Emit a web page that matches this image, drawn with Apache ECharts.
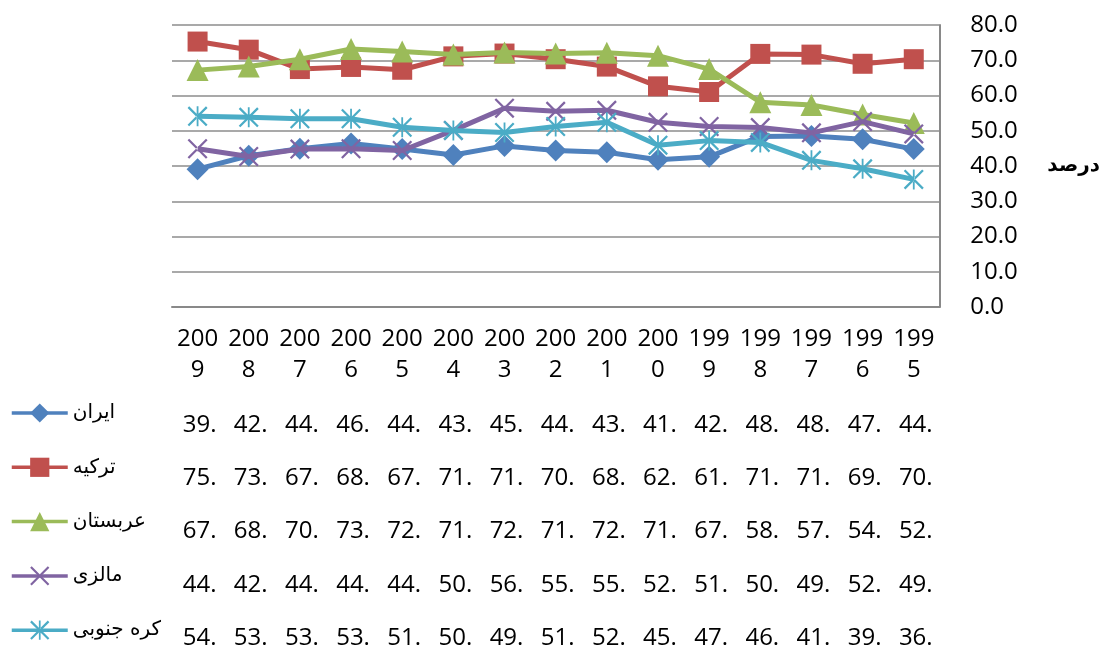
<!DOCTYPE html>
<html><head><meta charset="utf-8">
<script src="https://cdn.jsdelivr.net/npm/echarts@6/dist/echarts.min.js"></script>
<style>html,body{margin:0;padding:0;background:#fff}#c{width:1103px;height:651px}</style>
</head><body><div id="c"></div>
<script>
// ---- data ----
const years = ['2009','2008','2007','2006','2005','2004','2003','2002','2001','2000','1999','1998','1997','1996','1995'];
const seriesNames = ['ایران','ترکیه','عربستان','مالزی','کره جنوبی'];
const iran     = [39.1, 42.9, 44.9, 46.4, 44.8, 43.1, 45.7, 44.4, 43.9, 41.8, 42.6, 48.4, 48.5, 47.6, 44.8];
const turkey   = [75.3, 73.0, 67.5, 68.1, 67.3, 71.1, 71.9, 70.3, 68.2, 62.6, 61.0, 71.8, 71.6, 69.0, 70.3];
const arabia   = [67.2, 68.2, 70.3, 73.2, 72.5, 71.6, 72.2, 71.9, 72.1, 71.3, 67.5, 58.1, 57.3, 54.6, 52.2];
const malaysia = [44.9, 42.7, 44.8, 44.9, 44.4, 50.1, 56.4, 55.5, 55.8, 52.4, 51.2, 50.9, 49.4, 52.6, 49.1];
const korea    = [54.1, 53.8, 53.4, 53.4, 51.0, 50.1, 49.5, 51.2, 52.4, 45.9, 47.2, 46.7, 41.6, 39.2, 36.2];
const yTicks = [0, 10, 20, 30, 40, 50, 60, 70, 80];
const yName = 'درصد';

// ---- styling ----
const colors = ['#4F81BD','#C0504D','#9BBB59','#8064A2','#4BACC6'];
const xPath = 'path://M0,0.8L0.8,0L10,9.2L9.2,10ZM10,0.8L9.2,0L0,9.2L0.8,10Z';
const starPath = 'path://M0,0.8L0.8,0L10,9.2L9.2,10ZM10,0.8L9.2,0L0,9.2L0.8,10ZM4.55,0L5.45,0L5.45,10L4.55,10Z';
const symbols = ['diamond','rect','triangle', xPath, starPath];
const sizes = [22, 20, 22, 20, 20];
const allData = [iran, turkey, arabia, malaysia, korea];
const numFont = '"Open Sans", "Noto Sans", sans-serif';
const arFont = '"DejaVu Sans", sans-serif';

const chart = echarts.init(document.getElementById('c'), null, {renderer: 'canvas'});
const option = {
  animation: false,
  backgroundColor: '#fff',
  grid: {left: 172, right: 161, top: 25, bottom: 344, containLabel: false},
  legend: {
    orient: 'vertical', left: 10, top: 402, padding: 0,
    itemWidth: 56, itemHeight: 24, itemGap: 32.3,
    data: seriesNames,
    lineStyle: {width: 3.5},
    textStyle: {fontFamily: arFont, fontSize: 20, color: '#000', lineHeight: 22}
  },
  xAxis: {
    type: 'category', data: years, boundaryGap: true,
    axisLine: {show: true, lineStyle: {color: '#898989', width: 2}},
    axisTick: {show: false},
    axisLabel: {
      interval: 0, margin: 17, color: '#000', fontFamily: numFont, fontSize: 24, lineHeight: 31,
      formatter: v => v.slice(0, 3) + '\n' + v.slice(3)
    },
    splitLine: {show: false}
  },
  yAxis: {
    type: 'value', position: 'right', min: yTicks[0], max: yTicks[yTicks.length - 1], interval: 10,
    name: yName, nameLocation: 'middle', nameRotate: 0, nameGap: 108,
    nameTextStyle: {fontFamily: arFont, fontWeight: 'bold', fontSize: 20, color: '#000'},
    axisLine: {show: true, lineStyle: {color: '#898989', width: 2}},
    axisTick: {show: false},
    axisLabel: {margin: 31, color: '#000', fontFamily: numFont, fontSize: 24, formatter: v => v.toFixed(1)},
    splitLine: {show: true, lineStyle: {color: '#8c8c8c', width: 1.6}}
  },
  series: seriesNames.map((n, i) => ({
    name: n, type: 'line', data: allData[i],
    symbol: symbols[i], symbolSize: sizes[i], symbolKeepAspect: true,
    lineStyle: {color: colors[i], width: 5},
    itemStyle: {color: colors[i]},
    z: 2 + i
  }))
};
chart.setOption(option);

// ---- data table under the axis ----
const rowY0 = 425, rowStep = 53.3;
const graphics = [];
allData.forEach((arr, r) => {
  arr.forEach((v, c) => {
    const px = chart.convertToPixel({xAxisIndex: 0}, years[c]);
    graphics.push({
      type: 'text', x: px + 2, y: rowY0 + r * rowStep,
      style: {text: Math.floor(v) + '.', fill: '#000', font: '24px ' + numFont, textAlign: 'center', textVerticalAlign: 'middle'}
    });
  });
});
chart.setOption({graphic: graphics});
</script></body></html>
